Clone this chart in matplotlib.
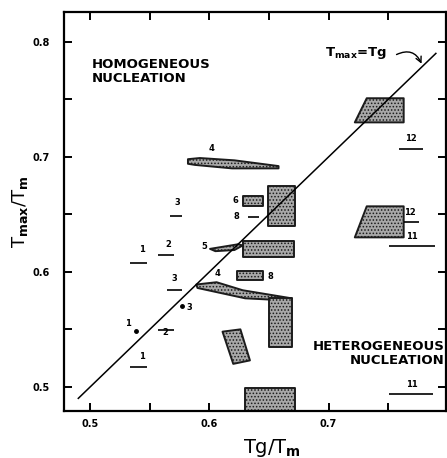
import matplotlib
matplotlib.use("Agg")
import matplotlib.pyplot as plt
from matplotlib.patches import Polygon

plt.rcParams['font.family'] = 'DejaVu Sans'
plt.rcParams['font.weight'] = 'bold'
plt.rcParams['mathtext.default'] = 'bf'
plt.rcParams['hatch.linewidth'] = 0.7

# axis ticks
x_major = [0.5, 0.6, 0.7]
x_minor = [0.55, 0.65, 0.75]
y_major = [0.5, 0.6, 0.7, 0.8]
y_minor = [0.55, 0.65, 0.75]

# Tmax = Tg line
eq_x = [0.49, 0.79]
eq_y = [0.49, 0.79]

# shaded regions (Tg/Tm, Tmax/Tm)
reg_12_top = [(0.722, 0.730), (0.732, 0.751), (0.763, 0.751), (0.763, 0.730)]
reg_12_mid = [(0.722, 0.630), (0.732, 0.657), (0.763, 0.657), (0.763, 0.630)]
reg_box_c = [(0.649, 0.640), (0.649, 0.675), (0.672, 0.675), (0.672, 0.640)]
reg_6 = [(0.628, 0.657), (0.628, 0.666), (0.645, 0.666), (0.645, 0.657)]
reg_4_top = [(0.582, 0.698), (0.592, 0.699), (0.621, 0.697), (0.658, 0.692),
             (0.658, 0.690), (0.619, 0.690), (0.588, 0.693), (0.582, 0.694)]
reg_5 = [(0.6005, 0.620), (0.624, 0.624), (0.628, 0.623), (0.621, 0.619), (0.605, 0.618)]
reg_7 = [(0.628, 0.613), (0.628, 0.627), (0.671, 0.627), (0.671, 0.613)]
reg_6b = [(0.623, 0.593), (0.623, 0.601), (0.645, 0.601), (0.645, 0.593)]
reg_4_low = [(0.589, 0.589), (0.606, 0.591), (0.628, 0.584), (0.669, 0.577),
             (0.649, 0.576), (0.630, 0.577), (0.590, 0.586)]
reg_9 = [(0.650, 0.535), (0.650, 0.577), (0.669, 0.577), (0.669, 0.535)]
reg_8 = [(0.611, 0.548), (0.626, 0.550), (0.634, 0.523), (0.620, 0.520)]
reg_7b = [(0.630, 0.470), (0.630, 0.499), (0.672, 0.499), (0.672, 0.470)]
regions = [reg_12_top, reg_12_mid, reg_box_c, reg_6, reg_4_top, reg_5, reg_7,
           reg_6b, reg_4_low, reg_9, reg_8, reg_7b]

# short horizontal marks: (x0, x1, y)
mark_x0 = [0.533, 0.557, 0.567, 0.5645, 0.557, 0.533, 0.759, 0.763, 0.751, 0.751, 0.632]
mark_x1 = [0.548, 0.570, 0.577, 0.577, 0.570, 0.548, 0.779, 0.776, 0.789, 0.788, 0.642]
mark_y = [0.608, 0.615, 0.649, 0.584, 0.5496, 0.517, 0.707, 0.643, 0.6226, 0.494, 0.648]

# point values
pt_x = [0.577, 0.538]
pt_y = [0.570, 0.549]

# reference number labels
lab_text = ['1', '2', '3', '3', '2', '1', '12', '12', '11', '11', '8', '6', '5',
            '4', '4', '8', '3', '1']
lab_x = [0.5435, 0.5653, 0.573, 0.571, 0.563, 0.5435, 0.769, 0.768, 0.770, 0.770,
         0.623, 0.622, 0.5955, 0.602, 0.607, 0.651, 0.583, 0.532]
lab_y = [0.6157, 0.620, 0.656, 0.590, 0.543, 0.5226, 0.712, 0.648, 0.627, 0.498,
         0.648, 0.662, 0.622, 0.703, 0.595, 0.596, 0.565, 0.551]

fig = plt.figure(figsize=(4.47, 4.58), dpi=100)
ax = fig.add_axes([64 / 447, 1 - 411 / 458, 382 / 447, 399 / 458])

for poly in regions:
    ax.add_patch(Polygon(poly, closed=True, facecolor='#a8a8a8', edgecolor='#1c1c1c',
                         hatch='.....', linewidth=1.4, joinstyle='round', zorder=2))

ax.plot(eq_x, eq_y, color='black', linewidth=1.1, zorder=3)
ax.hlines(mark_y, mark_x0, mark_x1, color='black', linewidth=1.2, zorder=3)
ax.plot(pt_x, pt_y, 'o', color='black', markersize=2.5, zorder=3)
for t, x, y in zip(lab_text, lab_x, lab_y):
    ax.text(x, y, t, fontsize=6, ha='center', va='bottom' if t not in ('8', '6', '5') else 'center',
            zorder=4)

ax.text(0.5015, 0.786, 'HOMOGENEOUS\nNUCLEATION', fontsize=9.5, va='top', ha='left',
        linespacing=1.1)
ax.text(0.7975, 0.541, 'HETEROGENEOUS\nNUCLEATION', fontsize=9.5, va='top', ha='right',
        linespacing=1.1, multialignment='right')
ax.text(0.697, 0.7904, r'T$_{max}$=Tg', fontsize=9.5, va='center', ha='left')
ax.annotate('', xy=(0.778, 0.781), xytext=(0.757, 0.789),
            arrowprops=dict(arrowstyle='->', color='black', lw=1.0,
                            connectionstyle='arc3,rad=-0.5', shrinkA=0, shrinkB=0))

ax.set_xlim(0.478, 0.7985)
ax.set_ylim(0.479, 0.826)
ax.set_xticks(x_major)
ax.set_xticks(x_minor, minor=True)
ax.set_yticks(y_major)
ax.set_yticks(y_minor, minor=True)
ax.set_xticklabels(['0.5', '0.6', '0.7'])
ax.set_yticklabels(['0.5', '0.6', '0.7', '0.8'])
for which in ('major', 'minor'):
    ax.tick_params(which=which, direction='in', length=6, width=1.4,
                   top=True, right=True, labelsize=7)
ax.tick_params(axis='y', which='major', pad=10)
ax.tick_params(axis='x', which='major', pad=6)
for s in ax.spines.values():
    s.set_linewidth(1.6)

ax.set_xlabel(r'Tg/T$_m$', fontsize=14)
ax.set_ylabel(r'T$_{max}$/T$_m$', fontsize=13)
ax.xaxis.set_label_coords(0.545, -0.065)
ax.yaxis.set_label_coords(-0.09, 0.5)

fig.savefig('out.png', dpi=100)
